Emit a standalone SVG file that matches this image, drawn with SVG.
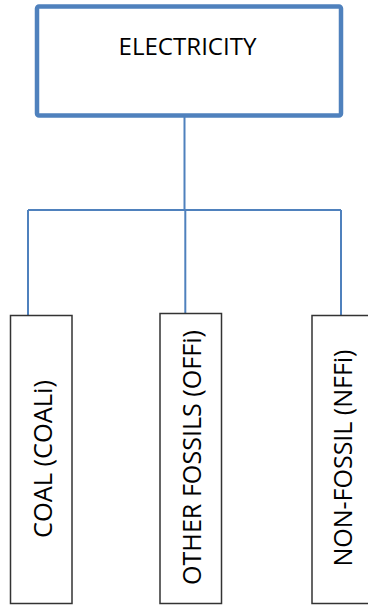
<svg xmlns="http://www.w3.org/2000/svg" width="368" height="605" viewBox="0 0 368 605">
<style>
.conn{stroke:#4F81BD;stroke-width:2;fill:none}
.leaf{fill:#fff;stroke:#333;stroke-width:1.5}
.lbl{font-family:"Open Sans","Liberation Sans",Arial,sans-serif;font-size:25.5px;fill:#000;text-anchor:middle}
.title{font-size:23.5px}
</style>
<rect width="368" height="605" fill="#fff"/>
<g id="connectors">
<line class="conn" x1="184.5" y1="117" x2="184.5" y2="210"/>
<line class="conn" x1="28" y1="210" x2="341" y2="210"/>
<line class="conn" x1="28" y1="210" x2="28" y2="315"/>
<line class="conn" x1="185.3" y1="210" x2="185.3" y2="313"/>
<line class="conn" x1="341" y1="210" x2="341" y2="315"/>
</g>
<g id="electricity">
<rect x="37" y="6.5" width="304" height="109" rx="2" fill="#fff" stroke="#4F81BD" stroke-width="4.5"/>
<text class="lbl title" x="187.5" y="54.5" textLength="138" lengthAdjust="spacingAndGlyphs">ELECTRICITY</text>
</g>
<g id="coal">
<rect class="leaf" x="10.5" y="315.5" width="61.5" height="288"/>
<text class="lbl" transform="translate(51.7,459) rotate(-90)" textLength="158" lengthAdjust="spacingAndGlyphs">COAL (COALi)</text>
</g>
<g id="other-fossils">
<rect class="leaf" x="160" y="313.5" width="61.5" height="290"/>
<text class="lbl" transform="translate(200.5,457.5) rotate(-90)" textLength="255" lengthAdjust="spacingAndGlyphs">OTHER FOSSILS (OFFi)</text>
</g>
<g id="non-fossil">
<rect class="leaf" x="312" y="315.5" width="62" height="288"/>
<text class="lbl" transform="translate(351.7,458) rotate(-90)" textLength="217" lengthAdjust="spacingAndGlyphs">NON-FOSSIL (NFFi)</text>
</g>
</svg>
